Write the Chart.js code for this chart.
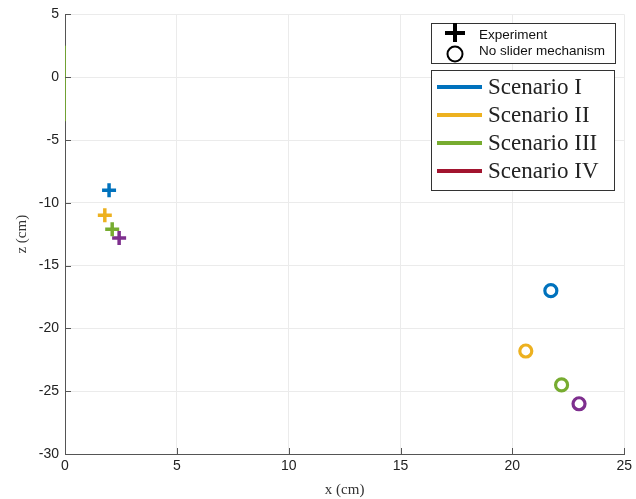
<!DOCTYPE html>
<html>
<head>
<meta charset="utf-8">
<script src="https://cdn.jsdelivr.net/npm/chart.js@4/dist/chart.umd.min.js"></script>
<style>
  html, body { margin: 0; padding: 0; background: #fff; }
  #wrap { width: 636px; height: 499px; }
</style>
</head>
<body>
<div id="wrap"><canvas id="c" width="636" height="499"></canvas></div>
<script>
// scenario names and colours
const scenarios = ["Scenario I", "Scenario II", "Scenario III", "Scenario IV"];
const colors = ["#0072BD", "#EDB120", "#77AC30", "#7E2F8E"];
const legendLineColors = ["#0072BD", "#EDB120", "#77AC30", "#A2142F"];

// experiment (crosses)
const expX = [1.97, 1.78, 2.11, 2.42];
const expZ = [-9.0, -11.0, -12.1, -12.8];

// no slider mechanism (circles)
const noSliderX = [21.72, 20.6, 22.2, 22.98];
const noSliderZ = [-17.0, -21.8, -24.5, -26.0];

const xTicks = [0, 5, 10, 15, 20, 25];
const zTicks = [5, 0, -5, -10, -15, -20, -25, -30];

const datasets = [];
// faint legend-proxy line sitting on the y axis
datasets.push({
  type: "line",
  data: [{ x: 0, y: 2.5 }, { x: 0, y: -3.5 }],
  borderColor: "#77AC30",
  borderWidth: 1,
  pointRadius: 0
});
scenarios.forEach((name, i) => {
  datasets.push({
    label: name + " experiment",
    data: [{ x: expX[i], y: expZ[i] }],
    pointStyle: "cross",
    pointRadius: 7,
    borderWidth: 3.5,
    borderColor: colors[i],
    backgroundColor: colors[i]
  });
  datasets.push({
    label: name + " no slider",
    data: [{ x: noSliderX[i], y: noSliderZ[i] }],
    pointStyle: "circle",
    pointRadius: 6,
    borderWidth: 3.2,
    borderColor: colors[i],
    backgroundColor: "rgba(255,255,255,0)"
  });
});

// inward tick marks plus the two legend boxes
const matlabBits = {
  id: "matlabBits",
  afterDraw(chart) {
    const ctx = chart.ctx;
    const xs = chart.scales.x, ys = chart.scales.y;
    const a = chart.chartArea;
    ctx.save();
    ctx.strokeStyle = "#555";
    ctx.lineWidth = 1;
    xTicks.forEach(v => {
      const px = Math.round(xs.getPixelForValue(v)) + 0.5;
      ctx.beginPath(); ctx.moveTo(px, a.bottom); ctx.lineTo(px, a.bottom - 6); ctx.stroke();
    });
    zTicks.forEach(v => {
      const py = Math.round(ys.getPixelForValue(v)) + 0.5;
      ctx.beginPath(); ctx.moveTo(a.left, py); ctx.lineTo(a.left + 6, py); ctx.stroke();
    });

    // box 1: marker legend
    ctx.fillStyle = "#fff";
    ctx.strokeStyle = "#333";
    ctx.fillRect(431, 23, 184, 40);
    ctx.strokeRect(431.5, 23.5, 184, 40);
    ctx.strokeStyle = "#000";
    ctx.lineWidth = 4;
    ctx.beginPath();
    ctx.moveTo(455, 23); ctx.lineTo(455, 42);
    ctx.moveTo(445, 33); ctx.lineTo(465, 33);
    ctx.stroke();
    ctx.lineWidth = 2;
    ctx.beginPath(); ctx.arc(455, 54, 7.5, 0, Math.PI * 2); ctx.stroke();
    ctx.fillStyle = "#111";
    ctx.font = "13.5px 'Liberation Sans', Arial, sans-serif";
    ctx.textBaseline = "middle";
    ctx.fillText("Experiment", 479, 35);
    ctx.fillText("No slider mechanism", 479, 51);

    // box 2: scenario lines
    ctx.fillStyle = "#fff";
    ctx.fillRect(431, 70, 183, 121);
    ctx.strokeStyle = "#333";
    ctx.lineWidth = 1;
    ctx.strokeRect(431.5, 70.5, 183, 120);
    const ly = [87, 115, 143, 171];
    ctx.font = "23px 'Liberation Serif', 'DejaVu Serif', serif";
    scenarios.forEach((name, i) => {
      ctx.strokeStyle = legendLineColors[i];
      ctx.lineWidth = 4;
      ctx.beginPath(); ctx.moveTo(437, ly[i]); ctx.lineTo(482, ly[i]); ctx.stroke();
      ctx.fillStyle = "#222";
      ctx.fillText(name, 488, ly[i] + 1);
    });
    ctx.restore();
  }
};

new Chart(document.getElementById("c"), {
  type: "scatter",
  data: { datasets },
  options: {
    responsive: false,
    animation: false,
    layout: { padding: { left: 0, right: 10, top: 14, bottom: 0 } },
    plugins: { legend: { display: false }, tooltip: { enabled: false } },
    scales: {
      x: {
        type: "linear",
        min: 0, max: 25,
        afterBuildTicks: s => { s.ticks = xTicks.map(v => ({ value: v })); },
        afterFit: s => { s.height = 45; },
        grid: { color: "#ebebeb", drawTicks: false },
        border: { color: "#555" },
        ticks: { color: "#222", padding: 4, font: { family: "'Liberation Sans', Arial, sans-serif", size: 14 } },
        title: { display: true, text: "x (cm)", color: "#333", padding: { top: 2, bottom: 0 },
                 font: { family: "'Liberation Serif', 'DejaVu Serif', serif", size: 15 } }
      },
      y: {
        type: "linear",
        min: -30, max: 5,
        afterBuildTicks: s => { s.ticks = zTicks.map(v => ({ value: v })); },
        afterFit: s => { s.width = 65; },
        grid: { color: "#ebebeb", drawTicks: false },
        border: { color: "#555" },
        ticks: { color: "#222", padding: 6, font: { family: "'Liberation Sans', Arial, sans-serif", size: 14 } },
        title: { display: true, text: "z (cm)", color: "#333", padding: { top: 13, bottom: 0 },
                 font: { family: "'Liberation Serif', 'DejaVu Serif', serif", size: 15 } }
      }
    }
  },
  plugins: [matlabBits]
});
</script>
</body>
</html>
